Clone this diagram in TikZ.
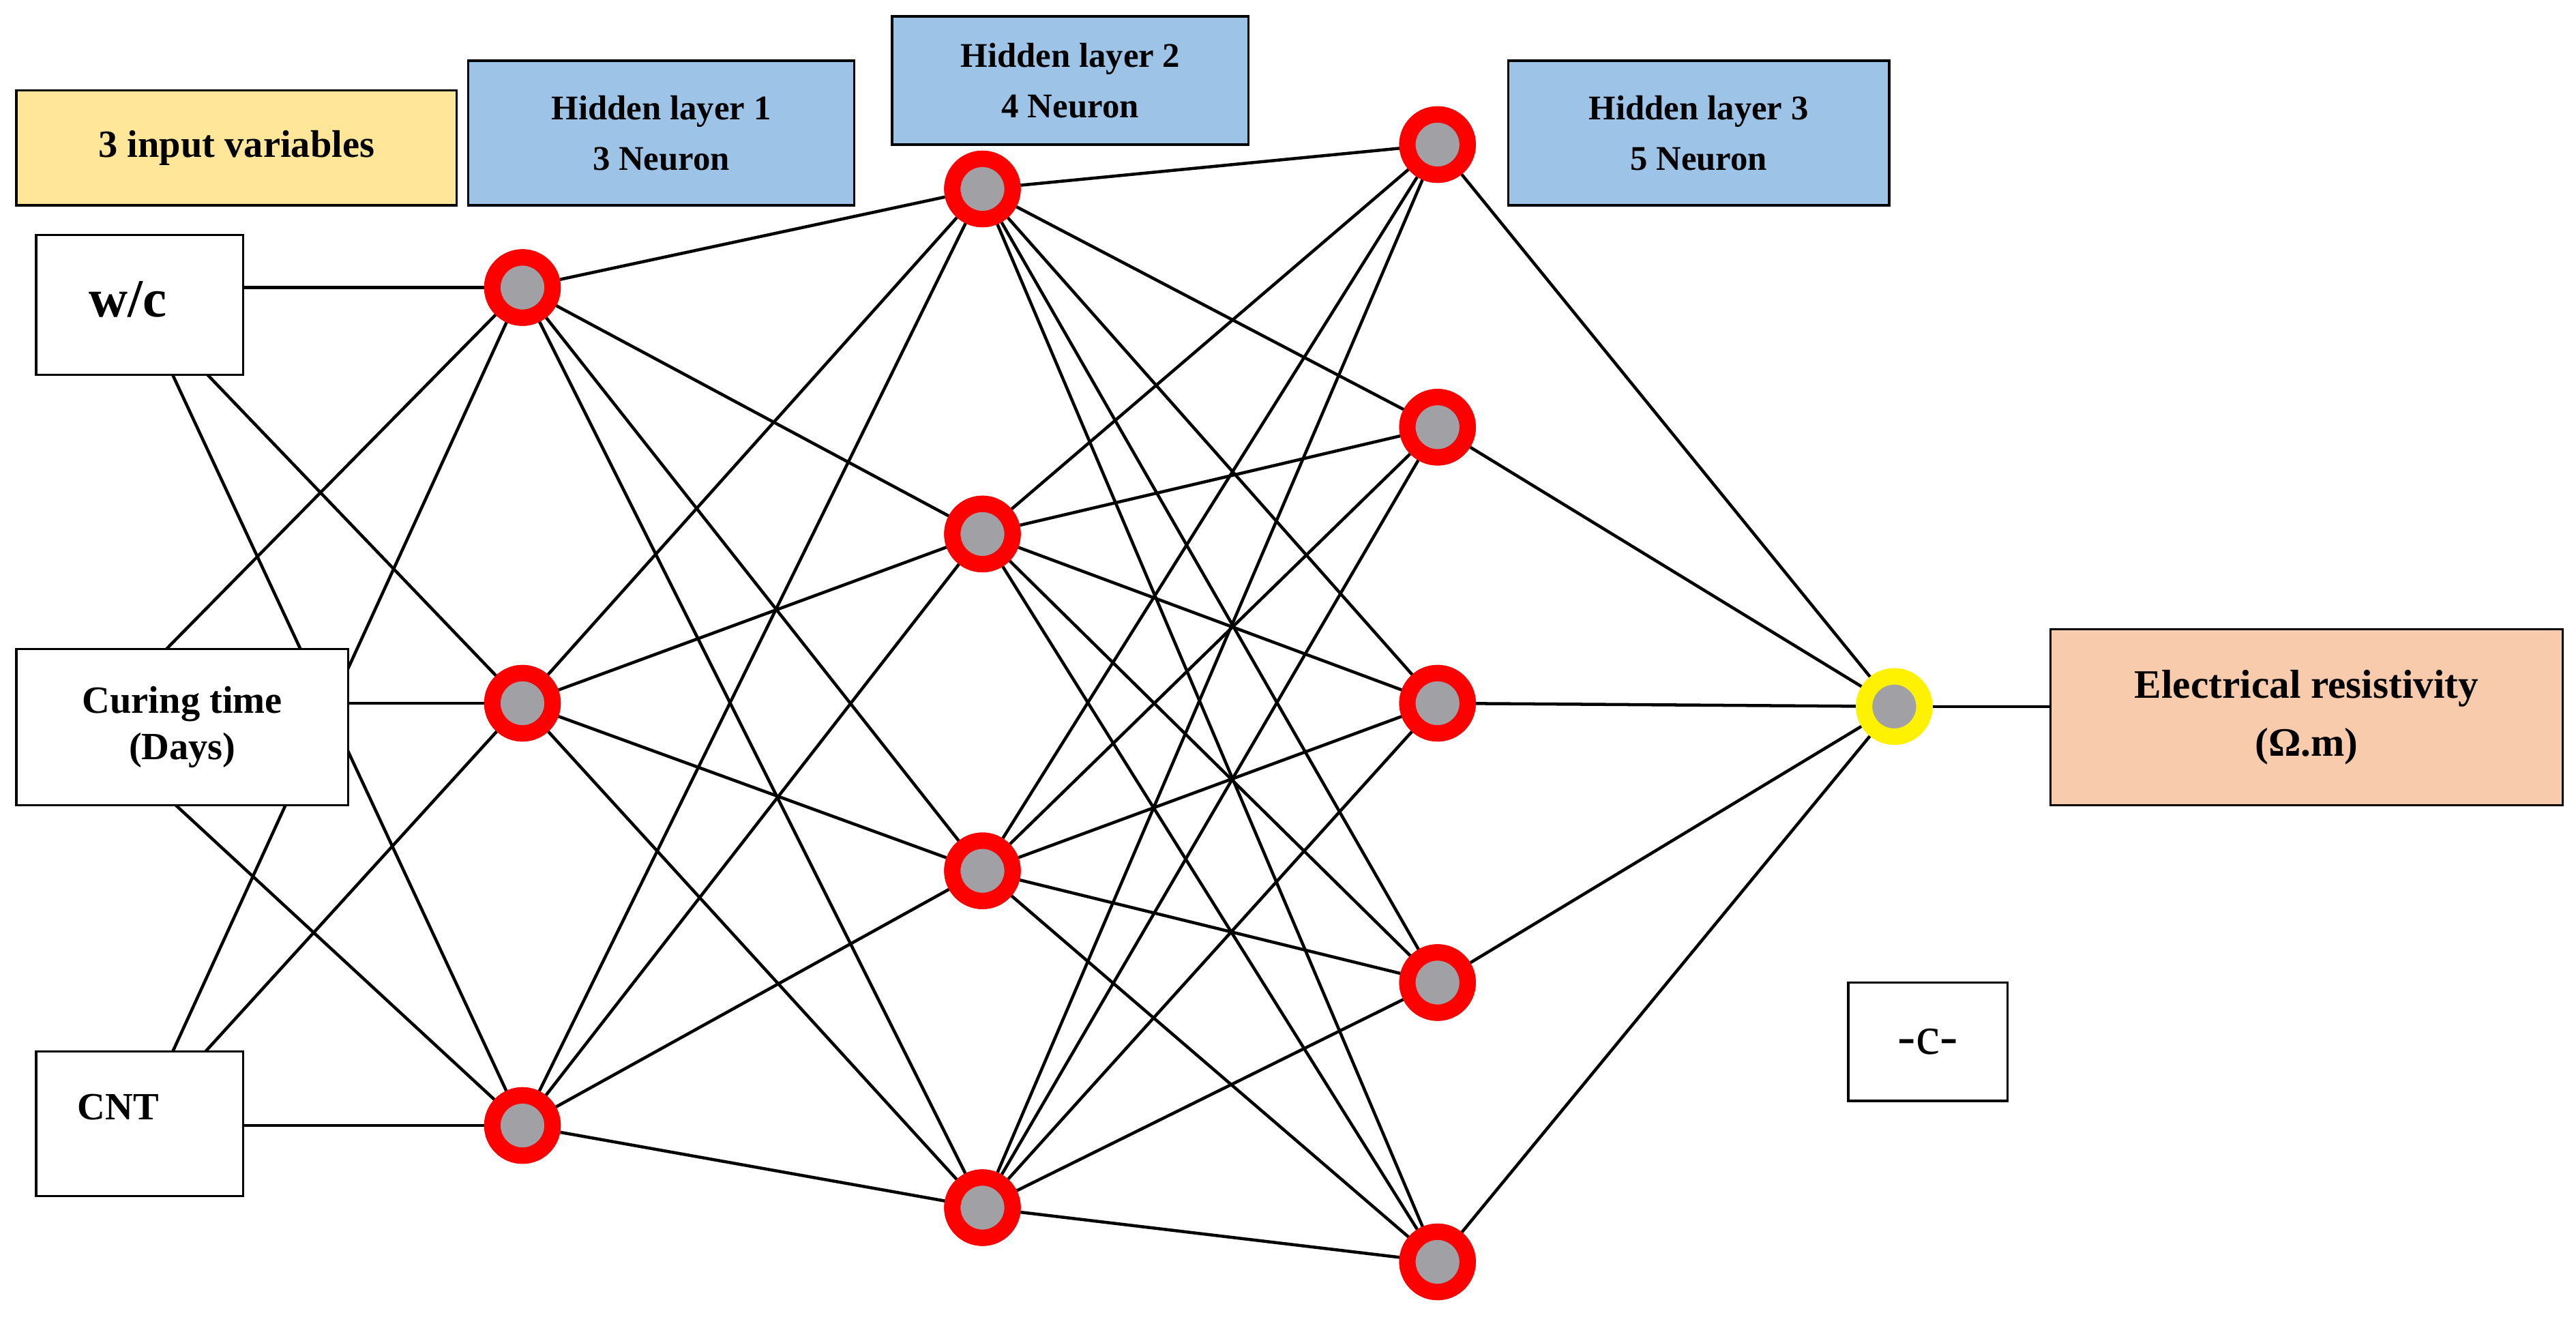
\documentclass[tikz,border=0pt]{standalone}
\usepackage{fontspec}
\setmainfont{Liberation Serif}
\begin{document}
\begin{tikzpicture}[x=0.03cm,y=-0.03cm,
  link/.style={line width=1.6pt,black},
  neuron/.style={circle,fill={rgb,255:red,160;green,160;blue,165},draw=red,line width=8.5pt,minimum size=1.1cm,inner sep=0pt},
  outn/.style={neuron,draw=yellow},
  box/.style={draw=black,line width=1.2pt,fill=white,align=center,inner sep=0pt,font=\fontsize{20}{24}\selectfont\bfseries},
  txt/.style={inner sep=0pt,font=\fontsize{20}{24}\selectfont\bfseries},
  hbox/.style={box,fill={rgb,255:red,157;green,195;blue,230},font=\fontsize{18}{26}\selectfont\bfseries}]
\useasboundingbox (0,0) rectangle (1568,807);
% neurons
\node[neuron] (a1) at (318,175) {};
\node[neuron] (a2) at (318,428) {};
\node[neuron] (a3) at (318,685) {};
\node[neuron] (b1) at (598,115) {};
\node[neuron] (b2) at (598,325) {};
\node[neuron] (b3) at (598,530) {};
\node[neuron] (b4) at (598,735) {};
\node[neuron] (c1) at (875,88) {};
\node[neuron] (c2) at (875,260) {};
\node[neuron] (c3) at (875,428) {};
\node[neuron] (c4) at (875,598) {};
\node[neuron] (c5) at (875,768) {};
\node[outn] (o) at (1153,430) {};
% input anchors
\coordinate (wc) at (85,185);
\coordinate (ct) at (55,442);
\coordinate (cn) at (85,684);
\draw[link] (wc) -- (a2); \draw[link] (wc) -- (a3);
\draw[link] (ct) -- (a1); \draw[link] (ct) -- (a3);
\draw[link] (cn) -- (a1); \draw[link] (cn) -- (a2);
\foreach \i in {1,2,3}{\foreach \j in {1,2,3,4}{\draw[link] (a\i) -- (b\j);}}
\foreach \i in {1,2,3,4}{\foreach \j in {1,2,3,4,5}{\draw[link] (b\i) -- (c\j);}}
\foreach \j in {1,2,3,4,5}{\draw[link] (c\j) -- (o);}
% redraw neurons on top
\foreach \p in {{318,175},{318,428},{318,685},{598,115},{598,325},{598,530},{598,735},{875,88},{875,260},{875,428},{875,598},{875,768}}{\node[neuron] at (\p) {};}
\node[outn] at (1153,430) {};
% boxes
\node[box,minimum width=3.78cm,minimum height=2.55cm] (bwc) at (85,185.5) {};
\node[txt,font=\fontsize{28}{30}\selectfont\bfseries] (twc) at (78,182) {w/c};
\node[box,minimum width=6.06cm,minimum height=2.85cm] (bct) at (111,442.5) {Curing time\\(Days)};
\node[box,minimum width=3.78cm,minimum height=2.64cm] (bcn) at (85,684) {};
\node[txt] (tcn) at (72,674) {CNT};
\node[box,fill={rgb,255:red,255;green,230;blue,153},minimum width=8.04cm,minimum height=2.1cm] (iv) at (144,90) {3 input variables};
\node[hbox,minimum width=7.05cm,minimum height=2.64cm] (h1) at (402.5,81) {Hidden layer 1\\3 Neuron};
\node[hbox,minimum width=6.51cm,minimum height=2.34cm] (h2) at (651.5,49) {Hidden layer 2\\4 Neuron};
\node[hbox,minimum width=6.96cm,minimum height=2.64cm] (h3) at (1034,81) {Hidden layer 3\\5 Neuron};
\node[box,fill={rgb,255:red,248;green,203;blue,173},minimum width=9.36cm,minimum height=3.21cm,font=\fontsize{21}{30}\selectfont\bfseries] (out) at (1404,436.5) {Electrical resistivity\\(Ω.m)};
\node[box,minimum width=2.91cm,minimum height=2.16cm,font=\fontsize{28}{30}\selectfont] (cc) at (1173.5,634) {-c-};
\draw[link] (bwc.east|-a1) -- (a1);
\draw[link] (bct.east|-a2) -- (a2);
\draw[link] (bcn.east|-a3) -- (a3);
\draw[link] (o) -- (out.west|-o);
\end{tikzpicture}
\end{document}
